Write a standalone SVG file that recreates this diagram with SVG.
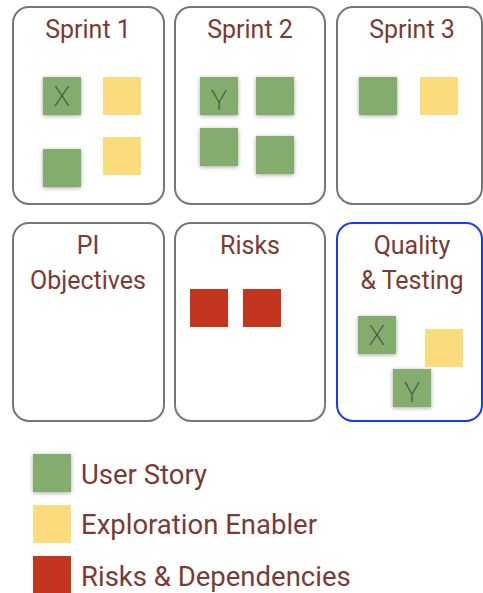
<svg xmlns="http://www.w3.org/2000/svg" width="483" height="593" viewBox="0 0 483 593">
<style>
.box{fill:#fff;stroke:#777;stroke-width:2}
.sel{fill:#fff;stroke:#1a3cf0;stroke-width:2}
.t{font-family:Roboto,"Liberation Sans",sans-serif;font-size:25px;fill:#7b3a32;text-anchor:middle}
.lg{font-family:Roboto,"Liberation Sans",sans-serif;font-size:27.5px;fill:#7b3a32}
.g{fill:#84ad6d;filter:url(#sh)}
.y{fill:#fadc7d}
.r{fill:#c4341f}
.m{font-family:Roboto,"Liberation Sans",sans-serif;font-weight:200;font-size:27px;fill:#4a4a4a;text-anchor:middle}
</style>
<defs>
<filter id="sh" x="-30%" y="-30%" width="160%" height="160%">
<feDropShadow dx="0" dy="1" stdDeviation="2" flood-color="#000" flood-opacity="0.35"/>
</filter>
</defs>
<g id="sprint1">
<rect class="box" x="13" y="7" width="151" height="197" rx="16"/>
<text class="t" x="88" y="38">Sprint 1</text>
<rect class="g" x="43" y="77" width="38" height="38"/>
<text class="m" x="62" y="106">X</text>
<rect class="y" x="103" y="77" width="38" height="38"/>
<rect class="g" x="43" y="149" width="38" height="38"/>
<rect class="y" x="103" y="137" width="38" height="38"/>
</g>
<g id="sprint2">
<rect class="box" x="175" y="7" width="150" height="197" rx="16"/>
<text class="t" x="250" y="38">Sprint 2</text>
<rect class="g" x="200" y="77" width="38" height="38"/>
<text class="m" x="219" y="110">Y</text>
<rect class="g" x="256" y="77" width="38" height="38"/>
<rect class="g" x="200" y="128" width="38" height="38"/>
<rect class="g" x="256" y="136" width="38" height="38"/>
</g>
<g id="sprint3">
<rect class="box" x="337" y="7" width="145" height="197" rx="16"/>
<text class="t" x="412" y="38">Sprint 3</text>
<rect class="g" x="359" y="77" width="38" height="38"/>
<rect class="y" x="420" y="77" width="38" height="38"/>
</g>
<g id="pi-objectives">
<rect class="box" x="13" y="223" width="151" height="198" rx="16"/>
<text class="t" x="88" y="254">PI</text>
<text class="t" x="88" y="289">Objectives</text>
</g>
<g id="risks">
<rect class="box" x="175" y="223" width="150" height="198" rx="16"/>
<text class="t" x="250" y="254">Risks</text>
<rect class="r" x="190" y="289" width="38" height="38"/>
<rect class="r" x="243" y="289" width="38" height="38"/>
</g>
<g id="quality-testing">
<rect class="sel" x="337" y="223" width="145" height="198" rx="16"/>
<text class="t" x="412" y="254">Quality</text>
<text class="t" x="412" y="289">&amp; Testing</text>
<rect class="g" x="358" y="316" width="38" height="38"/>
<text class="m" x="377" y="345">X</text>
<rect class="y" x="425" y="329" width="38" height="38"/>
<rect class="g" x="393" y="369" width="38" height="38"/>
<text class="m" x="412" y="402">Y</text>
</g>
<g id="legend">
<rect class="g" x="33" y="454" width="38" height="38"/>
<text class="lg" x="81" y="484">User Story</text>
<rect class="y" x="33" y="505" width="38" height="38"/>
<text class="lg" x="81" y="534">Exploration Enabler</text>
<rect class="r" x="33" y="556" width="38" height="38"/>
<text class="lg" x="81" y="586">Risks &amp; Dependencies</text>
</g>
<g id="connectors"/>
</svg>
